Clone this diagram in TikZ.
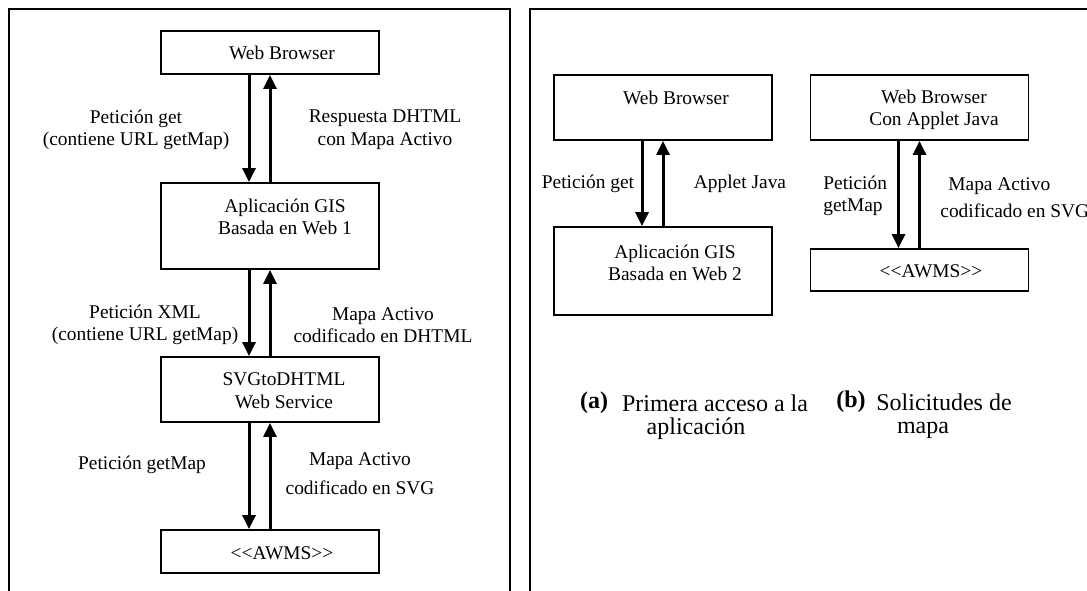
\documentclass[tikz,border=0pt]{standalone}
\usepackage{fontspec}
\setmainfont{Liberation Serif}
\usetikzlibrary{arrows.meta}

\begin{document}
\begin{tikzpicture}[
  x=0.5pt, y=-0.5pt,
  box/.style={
    draw,
    rectangle,
    line width=0.9pt,
    fill=none,
    minimum width=109pt,
    inner sep=0pt
  },
  txt/.style={
    draw=none,
    fill=none,
    align=center,
    inner sep=0pt,
    font=\fontsize{9.7}{11.3}\selectfont
  },
  captxt/.style={
    txt,
    font=\fontsize{12}{14}\selectfont
  },
  flow/.style={
    line width=1.5pt,
    -{Triangle[length=7pt,width=6.5pt]}
  },
  frame/.style={
    draw,
    line width=0.9pt
  }
]

\useasboundingbox (0,0) rectangle (1087,590);
\clip (0,0) rectangle (1087,590);

% Frames
\draw[frame] (9,9) rectangle (510,610);
\draw[frame] (530,9) rectangle (1110,610);

% Left chain
\node[box, minimum height=21.5pt] (wb1)   at (270,52.5)  {};
\node[box, minimum height=43pt]   (app1)  at (270,226)   {};
\node[box, minimum height=32.5pt] (svg1)  at (270,389.5) {};
\node[box, minimum height=21.5pt] (awms1) at (270,551.5) {};

\node[txt] (wb1-t)   at (282,53)  {Web Browser};
\node[txt] (app1-t)  at (285,217) {Aplicación GIS\\Basada en Web 1};
\node[txt] (svg1-t)  at (284,391) {SVGtoDHTML\\Web Service};
\node[txt] (awms1-t) at (282,553) {<{}<AWMS>{}>};

% Right: (a) and (b)
\node[box, minimum height=32.5pt] (wb2)   at (663,107.5)   {};
\node[box, minimum height=44pt]   (app2)  at (663,271)     {};
\node[box, minimum height=32.5pt] (wb3)   at (919.5,107.5) {};
\node[box, minimum height=21pt]   (awms3) at (919.5,270)   {};

\node[txt] (wb2-t)   at (676,98)  {Web Browser};
\node[txt] (app2-t)  at (675,263) {Aplicación GIS\\Basada en Web 2};
\node[txt] (wb3-t)   at (934,110) {Web Browser\\Con Applet Java};
\node[txt] (awms3-t) at (931,271) {<{}<AWMS>{}>};

% Arrows
\foreach \src/\dst in {wb1/app1, app1/svg1, svg1/awms1, wb2/app2, wb3/awms3} {
  \draw[flow] ([xshift=-10.5pt]\src.south) -- ([xshift=-10.5pt]\dst.north);
  \draw[flow] (\dst.north) -- (\src.south);
}

% Labels left
\node[txt] (l1) at (136,130) {Petición get\\(contiene URL getMap)};
\node[txt] (r1) at (385,130) {Respuesta DHTML\\con Mapa Activo};
\node[txt] (l2) at (145,325) {Petición XML\\(contiene URL getMap)};
\node[txt] (r2) at (383,325) {Mapa Activo\\codificado en DHTML};
\node[txt] (l3) at (142,465) {Petición getMap};
\node[txt] (r3) at (360,474) {Mapa Activo\\[3pt]codificado en SVG};

% Labels right
\node[txt] (l4) at (588,184) {Petición get};
\node[txt] (r4) at (740,184) {Applet Java};
\node[txt, align=left, anchor=west] (l5) at (823,196) {Petición\\getMap};
\node[txt, align=left, anchor=west] (r5) at (940,198) {\hspace*{4pt}Mapa Activo\\[2pt]codificado en SVG};

% Captions
\node[captxt, font=\fontsize{12}{14}\selectfont\bfseries] (cap-a) at (594,403) {(a)};
\node[captxt] (cap-a1) at (715,403) {Primera acceso a la};
\node[captxt] (cap-a2) at (696,429) {aplicación};
\node[captxt, font=\fontsize{12}{14}\selectfont\bfseries] (cap-b) at (851,402) {(b)};
\node[captxt] (cap-b1) at (944,402) {Solicitudes de};
\node[captxt] (cap-b2) at (923,430) {mapa};

\end{tikzpicture}
\end{document}
